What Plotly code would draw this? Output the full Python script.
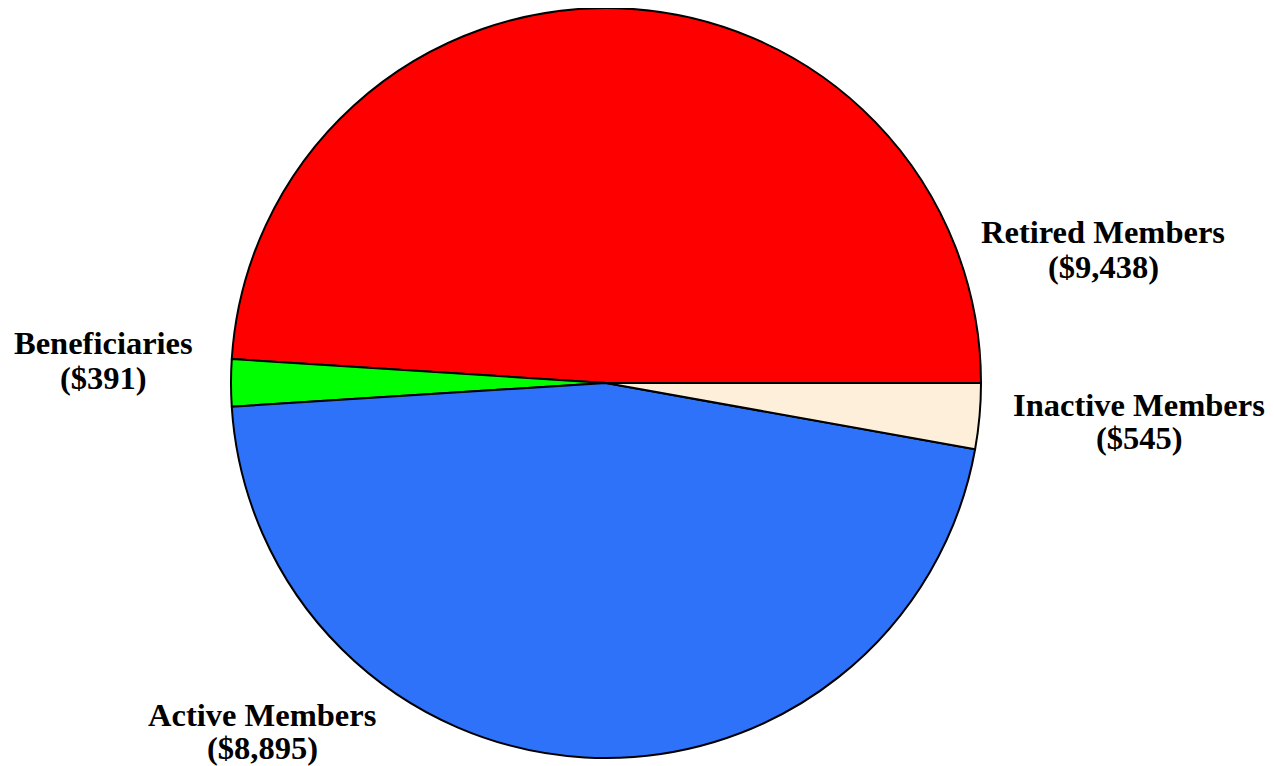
import plotly.graph_objects as go

categories = ["Retired Members", "Beneficiaries", "Active Members", "Inactive Members"]
values = [9438, 391, 8895, 545]
value_labels = ["($9,438)", "($391)", "($8,895)", "($545)"]
colors = ["#FF0000", "#00FF00", "#2E72FA", "#FDEFD9"]

W, H = 1274, 766
OFF = 8  # page body margin in the browser


def px_x(x):
    return (x - OFF) / W


def px_y(y):
    return 1 - (y - OFF) / H


# first slice (Retired) starts at 3 o'clock and runs counterclockwise;
# plotly's rotation marks the end of the first slice in counterclockwise mode
first_span = 360 * values[0] / sum(values)
rotation = -90 + (180 - first_span)

fig = go.Figure(go.Pie(
    labels=categories,
    values=values,
    sort=False,
    direction="counterclockwise",
    rotation=rotation,
    marker=dict(colors=colors, line=dict(color="black", width=2)),
    textinfo="none",
    hoverinfo="label+value",
    domain=dict(x=[px_x(231), px_x(981)], y=[px_y(758), px_y(8)]),
    showlegend=False,
))

# label anchor positions (pixels) for the two text lines of each label
label_pos = {
    "Retired Members": (1103, 232, 267),
    "Beneficiaries": (104, 343, 378),
    "Active Members": (262, 715, 748),
    "Inactive Members": (1139, 405, 438),
}
font = dict(family="Liberation Serif, Times New Roman, serif", size=32.5, color="black")
for cat, vl in zip(categories, value_labels):
    x, y1, y2 = label_pos[cat]
    for txt, yy in ((f"<b>{cat}</b>", y1), (f"<b>{vl}</b>", y2)):
        fig.add_annotation(x=px_x(x), y=px_y(yy), xref="paper", yref="paper",
                           text=txt, showarrow=False, xanchor="center", yanchor="middle",
                           font=font)

fig.update_layout(width=W, height=H, margin=dict(l=0, r=0, t=0, b=0),
                  paper_bgcolor="white", plot_bgcolor="white")
fig.write_html("out.html")
